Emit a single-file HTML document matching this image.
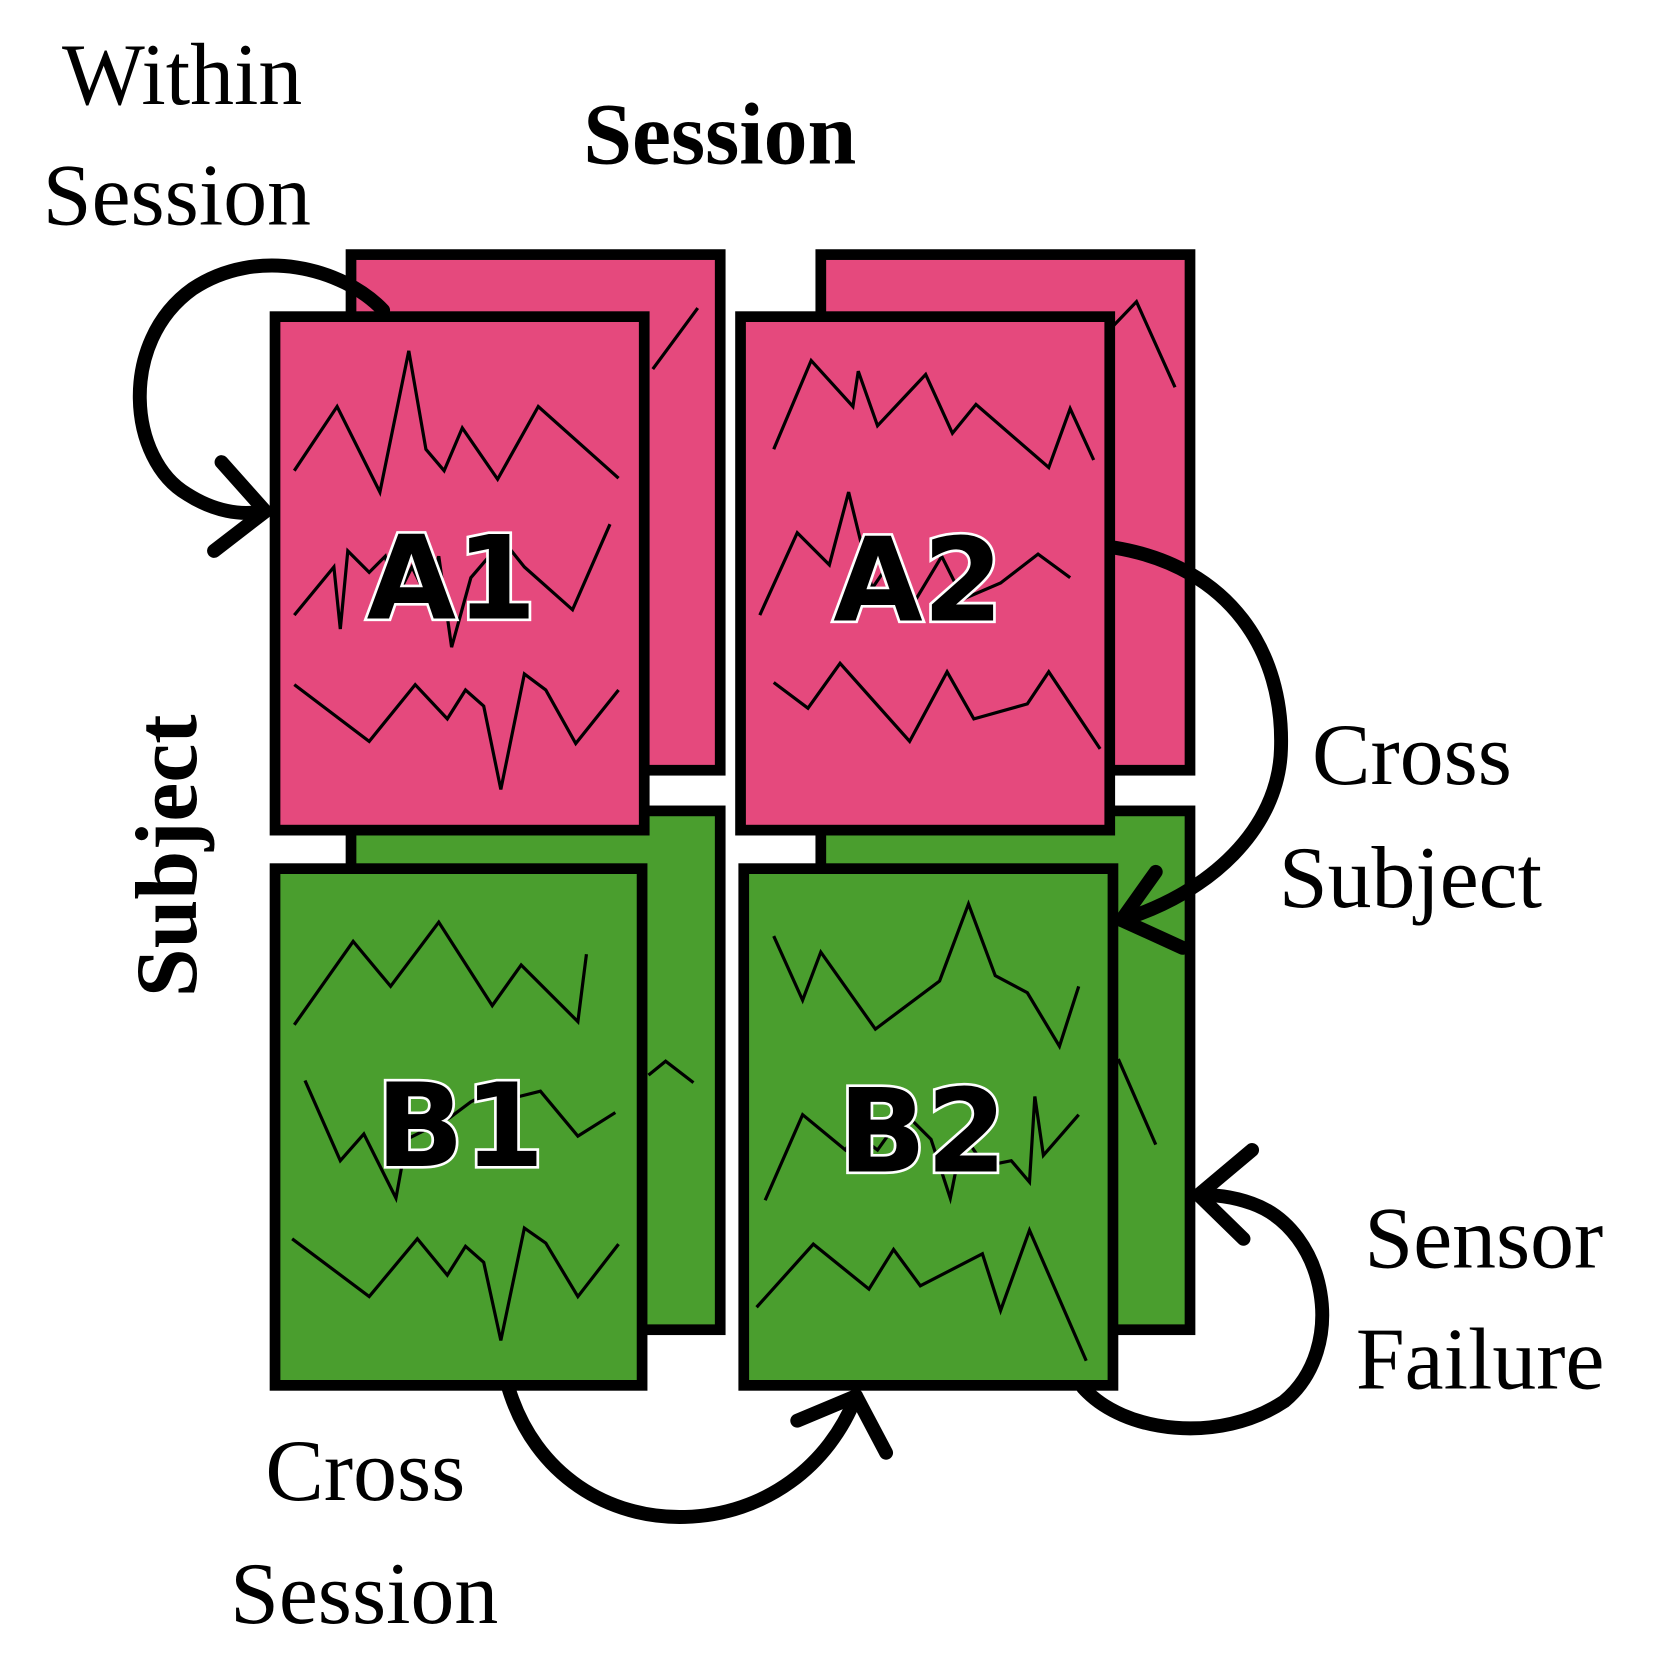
<!DOCTYPE html>
<html><head><meta charset="utf-8"><style>html,body{margin:0;padding:0;background:#fff}svg{display:block}</style></head>
<body>
<svg width="1678" height="1656" viewBox="0 0 1568 1548" preserveAspectRatio="none" xmlns="http://www.w3.org/2000/svg">
<rect width="1568" height="1548" fill="#fff"/>
<g font-family="Liberation Serif, serif" font-size="82" fill="#000">
<text x="58" y="97">Within</text>
<text x="40" y="210">Session</text>
<text x="545" y="153" font-weight="bold">Session</text>
<text transform="translate(183,800) rotate(-90)" text-anchor="middle" font-weight="bold">Subject</text>
<text x="1226" y="733">Cross</text>
<text x="1195" y="848">Subject</text>
<text x="1275" y="1185">Sensor</text>
<text x="1267" y="1298">Failure</text>
<text x="248" y="1402">Cross</text>
<text x="215" y="1517">Session</text>
</g>
<g stroke="#000" stroke-width="10" stroke-linejoin="miter">
<rect x="328" y="238" width="345" height="482" fill="#e5497d"/>
<rect x="767" y="238" width="345" height="482" fill="#e5497d"/>
<rect x="328" y="758" width="345" height="485" fill="#4a9e2e"/>
<rect x="767" y="758" width="345" height="485" fill="#4a9e2e"/>
</g>
<g fill="none" stroke="#000" stroke-width="3">
<polyline points="610,345 652,288"/>
<polyline points="1040,305 1062,282 1098,362"/>
<polyline points="606,1005 622,992 648,1012"/>
<polyline points="1045,990 1080,1070"/>
</g>
<g stroke="#000" stroke-width="10">
<rect x="257" y="296" width="345" height="480" fill="#e5497d"/>
<rect x="692" y="296" width="345" height="480" fill="#e5497d"/>
<rect x="257" y="812" width="343" height="483" fill="#4a9e2e"/>
<rect x="695" y="812" width="345" height="483" fill="#4a9e2e"/>
</g>
<g fill="none" stroke="#000" stroke-width="3">
<polyline points="275,440 315,380 355,460 382,328 398,420 415,440 432,400 465,448 503,380 578,447"/>
<polyline points="275,575 312,530 318,588 325,515 345,535 360,520 370,560 385,530 400,560 410,520 422,605 440,540 470,505 490,530 535,570 570,490"/>
<polyline points="275,640 345,693 388,640 418,672 435,645 452,660 468,738 490,630 510,645 538,695 578,645"/>
<polyline points="723,420 758,337 797,380 802,347 820,398 865,350 890,405 912,378 980,437 1000,382 1022,430"/>
<polyline points="710,575 745,498 775,528 793,460 815,550 832,525 850,570 880,520 900,560 935,545 970,518 1000,540"/>
<polyline points="723,638 755,662 785,620 850,693 885,628 910,672 960,658 980,628 1028,700"/>
<polyline points="275,958 330,880 365,922 410,862 460,940 487,902 540,955 548,892"/>
<polyline points="285,1010 318,1085 340,1060 370,1120 380,1065 420,1045 440,1030 460,1020 485,1025 505,1020 540,1062 575,1040"/>
<polyline points="273,1158 345,1212 390,1158 418,1192 435,1165 452,1180 468,1253 490,1148 510,1162 540,1212 578,1163"/>
<polyline points="723,875 750,935 767,890 818,962 878,917 905,845 930,912 960,928 990,978 1008,922"/>
<polyline points="715,1122 750,1042 790,1075 800,1060 820,1075 845,1040 870,1065 888,1120 900,1060 920,1090 945,1085 962,1105 967,1025 975,1080 1008,1042"/>
<polyline points="707,1222 760,1163 812,1205 835,1168 860,1202 918,1172 935,1225 962,1150 1015,1272"/>
</g>
<g font-family="DejaVu Sans, Liberation Sans, sans-serif" font-weight="bold" font-size="108" fill="#000" stroke="#fff" stroke-width="5" paint-order="stroke" text-anchor="middle">
<text x="422" y="578">A1</text>
<text x="858" y="580">A2</text>
<text x="430" y="1090">B1</text>
<text x="862" y="1095">B2</text>
</g>
<g fill="none" stroke="#000" stroke-width="13" stroke-linecap="round" stroke-linejoin="round">
<path d="M358,290 C320,250 240,230 180,270 C110,320 120,430 175,462 C200,478 225,482 245,478"/>
<polyline points="207,432 248,478 200,515"/>
<path d="M1042,512 C1150,530 1200,610 1197,700 C1195,775 1130,835 1048,860"/>
<polyline points="1080,815 1048,860 1105,886"/>
<path d="M1012,1297 C1050,1340 1140,1350 1200,1310 C1260,1260 1240,1150 1170,1125 C1150,1118 1135,1117 1120,1117"/>
<polyline points="1170,1075 1120,1117 1162,1158"/>
<path d="M475,1297 C500,1380 570,1420 640,1418 C715,1416 775,1370 800,1305"/>
<polyline points="745,1328 800,1305 828,1358"/>
</g>
</svg>
</body></html>
